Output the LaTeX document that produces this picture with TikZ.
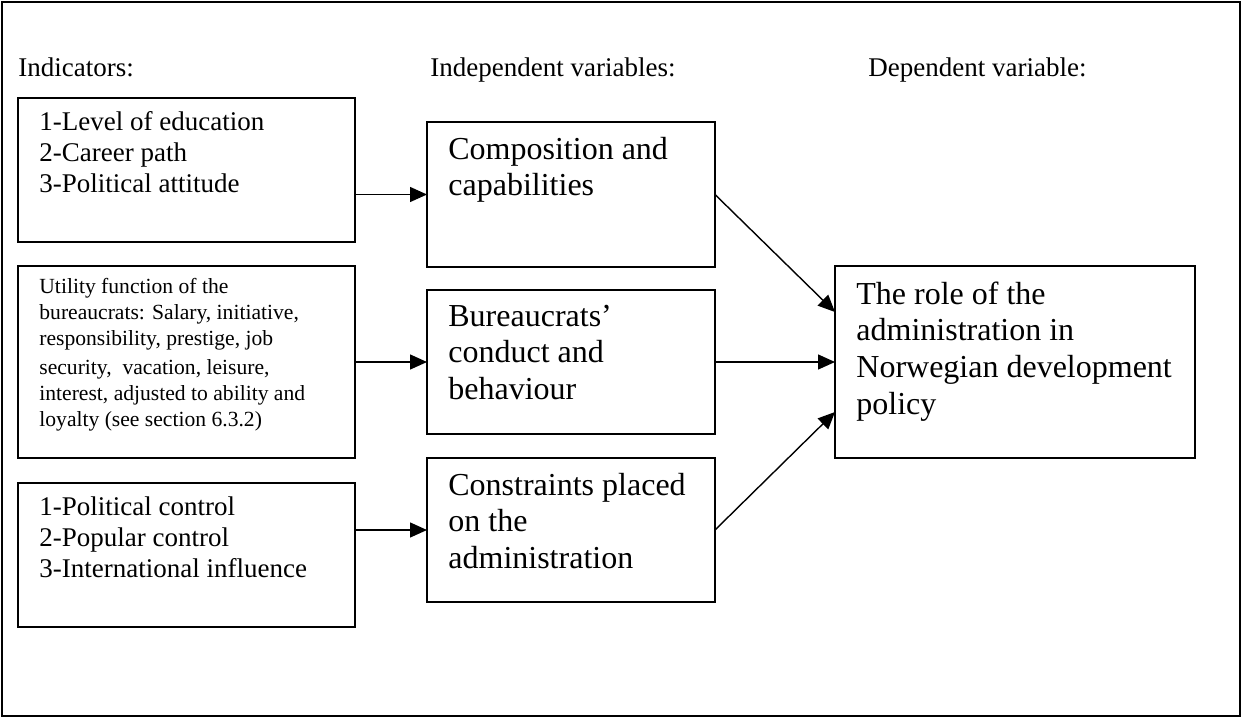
\documentclass[tikz,border=0pt]{standalone}
\usepackage{fontspec}
\setmainfont{Liberation Serif}
\usetikzlibrary{arrows.meta,calc}

\tikzset{
  box/.style={draw, line width=0.9pt, inner sep=0pt, outer sep=0pt},
  head/.style={anchor=base west, inner sep=0pt, font=\fontsize{13.5}{15.5}\selectfont},
  boxtext/.style={anchor=north west, inner sep=0pt, align=left, execute at begin node=\strut},
  mediumtext/.style={boxtext, font=\fontsize{13.5}{15.5}\selectfont},
  smalltext/.style={boxtext, font=\fontsize{10.8}{13}\selectfont},
  largetext/.style={boxtext, font=\fontsize{16}{18.3}\selectfont},
  link/.style={line width=0.7pt, -{Triangle[length=8.5pt,width=7.5pt]}}
}

\begin{document}
\begin{tikzpicture}[x=0.5pt,y=-0.5pt]
  \useasboundingbox (0,0) rectangle (1243,718);
  \draw[line width=1pt] (2,2) rectangle (1240,716);

  % column headings
  \node[head] (hind) at (18,76) {Indicators:};
  \node[head] (hindep) at (430,76) {Independent variables:};
  \node[head] (hdep) at (868,76) {Dependent variable:};

  % indicators
  \node[box, minimum width=168.5pt, minimum height=72pt] (ind1) at (186.5,170) {};
  \node[box, minimum width=168.5pt, minimum height=96pt] (ind2) at (186.5,362) {};
  \node[box, minimum width=168.5pt, minimum height=72pt] (ind3) at (186.5,555) {};
  \node[mediumtext] (ind1t) at ($(ind1.north west)+(21,13.3)$)
    {1-Level of education\\2-Career path\\3-Political attitude};
  \node[smalltext] (ind2t) at ($(ind2.north west)+(21,11.8)$)
    {Utility function of the\\bureaucrats: Salary, initiative,\\responsibility, prestige, job\\[1.5pt]
     security, \ vacation, leisure,\\interest, adjusted to ability and\\loyalty (see section 6.3.2)};
  \node[mediumtext] (ind3t) at ($(ind3.north west)+(21,13.3)$)
    {1-Political control\\2-Popular control\\3-International influence};

  % independent variables
  \node[box, minimum width=144pt, minimum height=72.5pt] (comp) at (571,194.5) {};
  \node[box, minimum width=144pt, minimum height=72pt] (cond) at (571,362) {};
  \node[box, minimum width=144pt, minimum height=72pt] (cons) at (571,530) {};
  \node[largetext] (compt) at ($(comp.north west)+(21,14.4)$) {Composition and\\capabilities};
  \node[largetext] (condt) at ($(cond.north west)+(21,14.4)$) {Bureaucrats’\\conduct and\\behaviour};
  \node[largetext] (const) at ($(cons.north west)+(21,14.4)$) {Constraints placed\\on the\\administration};

  % dependent variable
  \node[box, minimum width=180pt, minimum height=96pt] (role) at (1015,362) {};
  \node[largetext] (rolet) at ($(role.north west)+(21,15.4)$)
    {The role of the\\administration in\\Norwegian development\\policy};

  % arrows
  \draw[link] (ind1.east |- comp.west) -- (comp.west);
  \draw[link] (ind2.east |- cond.west) -- (cond.west);
  \draw[link] (ind3.east |- cons.west) -- (cons.west);
  \draw[link] (comp.east) -- ($(role.west)+(0,-50)$);
  \draw[link] (cond.east) -- (role.west);
  \draw[link] (cons.east) -- ($(role.west)+(0,50)$);
\end{tikzpicture}
\end{document}
